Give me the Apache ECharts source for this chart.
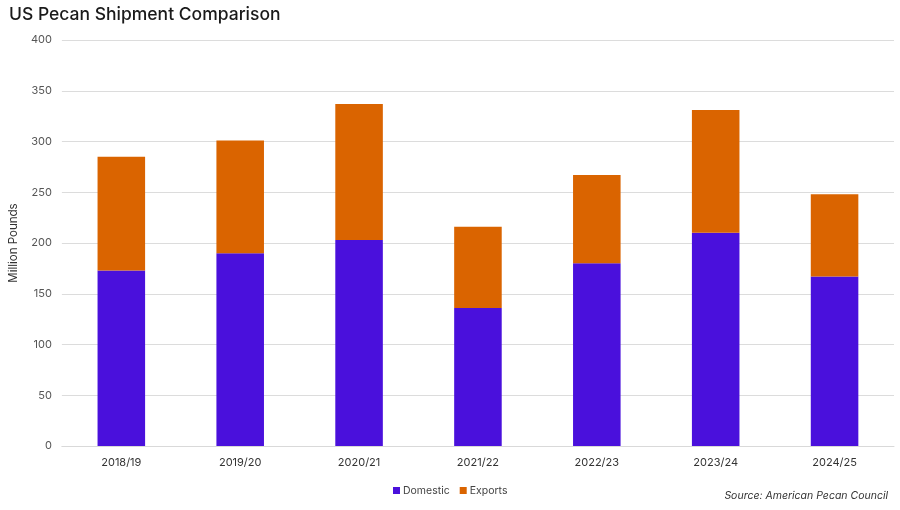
<!DOCTYPE html>
<html>
<head>
<meta charset="utf-8">
<script src="https://cdn.jsdelivr.net/npm/echarts@6/dist/echarts.min.js"></script>
<style>
html,body{margin:0;padding:0;background:#fff;}
#chart{width:900px;height:510px;}
</style>
</head>
<body>
<div id="chart"></div>
<script>
const categories = ['2018/19','2019/20','2020/21','2021/22','2022/23','2023/24','2024/25'];
const domestic = [173, 190, 203, 136, 180, 210, 167];
const exportsVals = [112, 111, 134, 80, 87, 121, 81];
const yTicks = [0, 50, 100, 150, 200, 250, 300, 350, 400];

const font = 'Inter';
const chart = echarts.init(document.getElementById('chart'));
chart.setOption({
  backgroundColor: '#fff',
  animation: false,
  title: [{
    text: 'US Pecan Shipment Comparison',
    left: 4, top: 1,
    textStyle: {fontFamily: font, fontSize: 17.5, fontWeight: 500, color: '#1a1a1a'}
  }, {
    text: 'Source: American Pecan Council',
    right: 7, top: 485,
    textStyle: {fontFamily: font, fontSize: 10.5, fontWeight: 'normal', fontStyle: 'italic', color: '#333'}
  }],
  legend: {
    data: ['Domestic', 'Exports'],
    left: 388, top: 480,
    itemWidth: 7, itemHeight: 7, itemGap: 10,
    icon: 'rect',
    textStyle: {fontFamily: font, fontSize: 10.5, color: '#444', padding: [0,0,0,-2]}
  },
  grid: {left: 58, right: 6, top: 40, bottom: 64, containLabel: false},
  xAxis: {
    type: 'category',
    data: categories,
    axisLine: {show: true, lineStyle: {color: '#d9d9d9'}},
    axisTick: {show: false},
    axisLabel: {fontFamily: font, fontSize: 11, color: '#333', margin: 11}
  },
  yAxis: {
    type: 'value',
    min: yTicks[0], max: yTicks[yTicks.length-1], interval: 50,
    name: 'Million Pounds',
    nameLocation: 'middle',
    nameGap: 40,
    nameTextStyle: {fontFamily: font, fontSize: 11.5, color: '#333'},
    axisLine: {show: false},
    axisTick: {show: false},
    axisLabel: {fontFamily: font, fontSize: 11, color: '#555', margin: 10},
    splitLine: {lineStyle: {color: '#dcdcdc'}}
  },
  series: [{
    name: 'Domestic', type: 'bar', stack: 'total', data: domestic,
    barWidth: '40%',
    itemStyle: {color: '#4a10dc'}
  }, {
    name: 'Exports', type: 'bar', stack: 'total', data: exportsVals,
    barWidth: '40%',
    itemStyle: {color: '#da6400'}
  }]
});
</script>
</body>
</html>
